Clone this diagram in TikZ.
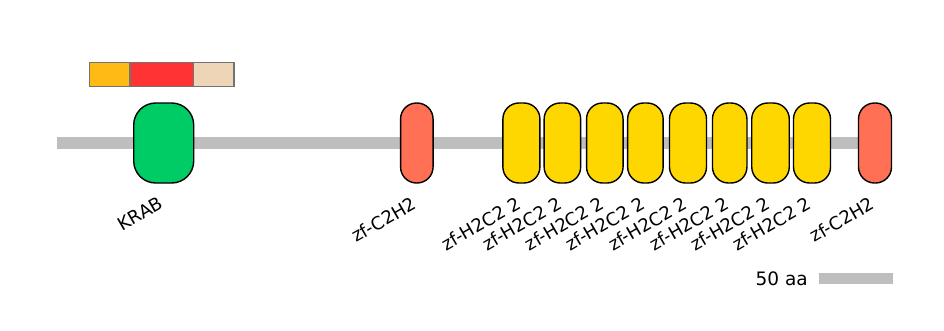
\documentclass[tikz,border=0pt]{standalone}
\usepackage{fontspec}
\setmainfont{DejaVu Sans}
\definecolor{backbonegray}{HTML}{BEBEBE}
\definecolor{krabgreen}{HTML}{00CC66}
\definecolor{zfred}{HTML}{FF7055}
\definecolor{zfyellow}{HTML}{FFD700}
\definecolor{barorange}{HTML}{FFBA14}
\definecolor{barred}{HTML}{FF3333}
\definecolor{bartan}{HTML}{EED5B7}
\tikzset{
  pfambox/.style={draw=black, line width=1.4pt, rounded corners=16pt,
    minimum height=80pt, inner sep=0pt},
  motif/.style={draw=black!55, line width=1.4pt, minimum height=24pt, inner sep=0pt},
  dlabel/.style={rotate=30, anchor=base east, inner sep=0pt,
    font=\fontsize{18}{20}\selectfont},
  backbone/.style={draw=backbonegray, line width=11.5pt}
}
\begin{document}
\begin{tikzpicture}[x=1pt, y=-1pt]
    \useasboundingbox (0,0) rectangle (944,330);
    % backbone
    \coordinate (nterm) at (57,143);
    \coordinate (cterm) at (885,143);
    \draw[backbone] (nterm) -- (cterm);
    % motif bar
    \node[motif, fill=barorange, minimum width=40.5pt] (m1) at (109.6,74.7) {};
    \node[motif, fill=barred, minimum width=63.3pt] (m2) at (161.6,74.7) {};
    \node[motif, fill=bartan, minimum width=40.7pt] (m3) at (213.6,74.7) {};
    % domains
    \node[pfambox, fill=krabgreen, rounded corners=22pt, minimum width=60pt] (krab) at (163.7,143) {};
    \node[pfambox, fill=zfred, minimum width=32.5pt] (zf1) at (416.8,143) {};
    \node[pfambox, fill=zfyellow, minimum width=37pt] (h1) at (521.4,143) {};
    \node[pfambox, fill=zfyellow, minimum width=36.5pt] (h2) at (562.4,143) {};
    \node[pfambox, fill=zfyellow, minimum width=36.5pt] (h3) at (604.8,143) {};
    \node[pfambox, fill=zfyellow, minimum width=35.5pt] (h4) at (645.4,143) {};
    \node[pfambox, fill=zfyellow, minimum width=37pt] (h5) at (688.0,143) {};
    \node[pfambox, fill=zfyellow, minimum width=34.5pt] (h6) at (729.7,143) {};
    \node[pfambox, fill=zfyellow, minimum width=37.5pt] (h7) at (770.5,143) {};
    \node[pfambox, fill=zfyellow, minimum width=37pt] (h8) at (812.0,143) {};
    \node[pfambox, fill=zfred, minimum width=33pt] (zf2) at (875.0,143) {};
    % labels
    \node[dlabel] (lkrab) at ([xshift=1pt]krab.center |- 0,207.5) {KRAB};
    \node[dlabel] (lzf1) at ([xshift=1pt]zf1.center |- 0,207.5) {zf-C2H2};
    \node[dlabel] (lh1) at ([xshift=1pt]h1.center |- 0,207.5) {zf-H2C2 2};
    \node[dlabel] (lh2) at ([xshift=1pt]h2.center |- 0,207.5) {zf-H2C2 2};
    \node[dlabel] (lh3) at ([xshift=1pt]h3.center |- 0,207.5) {zf-H2C2 2};
    \node[dlabel] (lh4) at ([xshift=1pt]h4.center |- 0,207.5) {zf-H2C2 2};
    \node[dlabel] (lh5) at ([xshift=1pt]h5.center |- 0,207.5) {zf-H2C2 2};
    \node[dlabel] (lh6) at ([xshift=1pt]h6.center |- 0,207.5) {zf-H2C2 2};
    \node[dlabel] (lh7) at ([xshift=1pt]h7.center |- 0,207.5) {zf-H2C2 2};
    \node[dlabel] (lh8) at ([xshift=1pt]h8.center |- 0,207.5) {zf-H2C2 2};
    \node[dlabel] (lzf2) at ([xshift=1pt]zf2.center |- 0,207.5) {zf-C2H2};
    % scale bar
    \coordinate (scaleL) at (818.5,278.5);
    \coordinate (scaleR) at (892.7,278.5);
    \draw[draw=backbonegray, line width=10.7pt] (scaleL) -- (scaleR);
    \node[anchor=base east, inner sep=0pt, font=\fontsize{18.5}{20}\selectfont] (scale) at (808,285.5) {50 aa};
\end{tikzpicture}
\end{document}
